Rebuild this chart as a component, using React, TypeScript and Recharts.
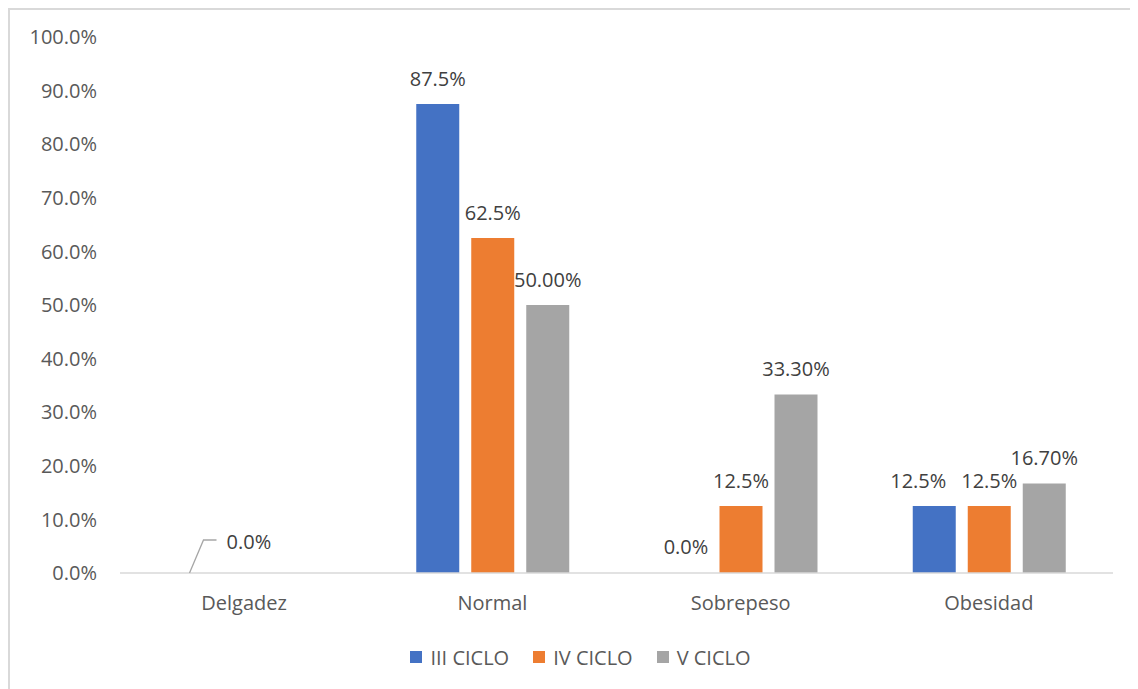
import { BarChart, Bar, XAxis, YAxis, Legend, LabelList } from "recharts";

const categories = ["Delgadez", "Normal", "Sobrepeso", "Obesidad"];
const cicloIII = [0, 87.5, 0, 12.5];
const cicloIV = [0, 62.5, 12.5, 12.5];
const cicloV = [0, 50.0, 33.3, 16.7];
const yTicks = [0, 10, 20, 30, 40, 50, 60, 70, 80, 90, 100];

const series = [
  { key: "iii", name: "III CICLO", color: "#4472C4", decimals: 1 },
  { key: "iv", name: "IV CICLO", color: "#ED7D31", decimals: 1 },
  { key: "v", name: "V CICLO", color: "#A5A5A5", decimals: 2 },
];

const data = categories.map((c, i) => ({
  name: c,
  iii: cicloIII[i],
  iv: cicloIV[i],
  v: cicloV[i],
}));

const FONT = "'Open Sans', sans-serif";

function makeLabel(key: string, decimals: number) {
  return (props: any) => {
    const { x, y, width, value, index } = props;
    const cx = Number(x) + Number(width) / 2;
    const by = Number(y);
    const text = Number(value).toFixed(decimals) + "%";
    if (index === 0) {
      if (key !== "iii") return null;
      return (
        <g>
          <polyline
            points={`${cx},${by} ${cx + 14},${by - 33} ${cx + 27},${by - 33}`}
            fill="none"
            stroke="#a6a6a6"
            strokeWidth={1.3}
          />
          <text x={cx + 37} y={by - 31} fill="#404040" fontSize={20} fontFamily={FONT} dominantBaseline="central">
            {text}
          </text>
        </g>
      );
    }
    const dx = key === "iii" && index === 3 ? -16 : 0;
    return (
      <text
        x={cx + dx}
        y={by - 26}
        fill="#404040"
        fontSize={20}
        fontFamily={FONT}
        textAnchor="middle"
        dominantBaseline="central"
      >
        {text}
      </text>
    );
  };
}

function LegendBox(props: any) {
  const items = props.payload || [];
  return (
    <div style={{ display: "flex", justifyContent: "center", gap: 24, fontFamily: FONT, fontSize: 20, color: "#595959", height: 30, alignItems: "center", paddingLeft: 38 }}>
      {items.map((it: any) => (
        <div key={it.value} style={{ display: "flex", alignItems: "center" }}>
          <span style={{ width: 12, height: 12, background: it.color, display: "inline-block", marginRight: 8 }} />
          <span>{it.value}</span>
        </div>
      ))}
    </div>
  );
}

export default function App() {
  return (
    <div style={{ width: 1140, height: 690, border: "2px solid #d9d9d9", background: "#fff" }}>
      <BarChart
        width={1130}
        height={680}
        data={data}
        margin={{ top: 27, right: 27, left: 0, bottom: 18 }}
        barGap={12}
        barSize={43}
      >
        <XAxis
          dataKey="name"
          height={69}
          tickLine={false}
          tickSize={0}
          tickMargin={23}
          axisLine={{ stroke: "#d9d9d9", strokeWidth: 1.5 }}
          tick={{ fill: "#595959", fontSize: 20, fontFamily: FONT }}
        />
        <YAxis
          width={110}
          domain={[0, 100]}
          ticks={yTicks}
          interval={0}
          axisLine={false}
          tickLine={false}
          tickSize={0}
          tickMargin={23}
          tickFormatter={(v: number) => v.toFixed(1) + "%"}
          tick={{ fill: "#595959", fontSize: 20, fontFamily: FONT }}
        />
        <Legend verticalAlign="bottom" height={30} content={<LegendBox />} />
        {series.map((s) => (
          <Bar
            key={s.key}
            dataKey={s.key}
            name={s.name}
            fill={s.color}
            minPointSize={(v: number) => (v === 0 ? 0.01 : 0)}
            isAnimationActive={false}
          >
            <LabelList dataKey={s.key} content={makeLabel(s.key, s.decimals)} />
          </Bar>
        ))}
      </BarChart>
    </div>
  );
}
